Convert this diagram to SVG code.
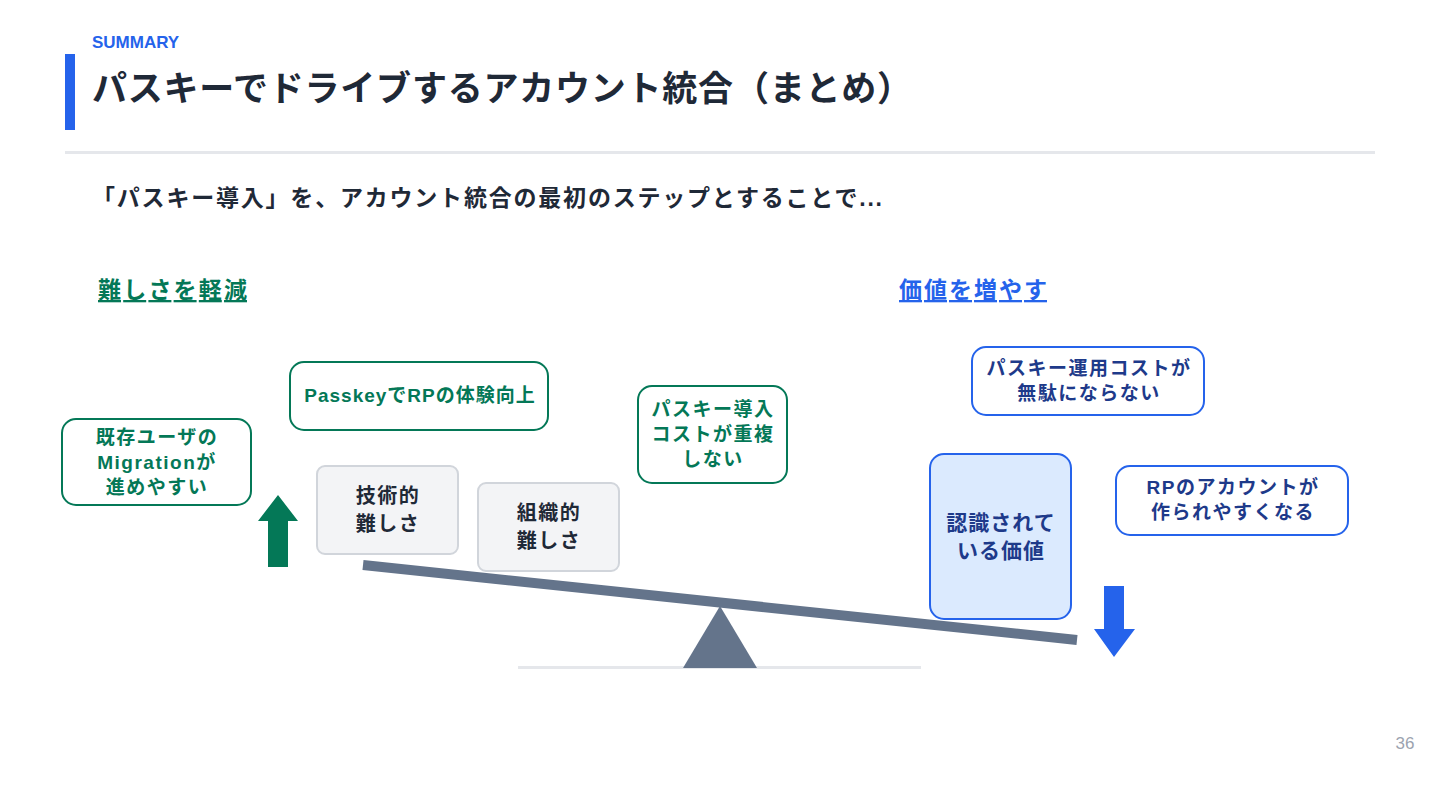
<svg xmlns="http://www.w3.org/2000/svg" width="1440" height="810" viewBox="0 0 1440 810">
<style>
text{font-family:"Liberation Sans","Noto Sans CJK JP",sans-serif;font-weight:bold}
.g{fill:#047857;font-size:19px;text-anchor:middle;letter-spacing:1.5px}
.b{fill:#1e3a8a;font-size:19px;text-anchor:middle;letter-spacing:1.5px}
.d{fill:#1f2937;font-size:20px;text-anchor:middle;letter-spacing:1.5px}
.v{fill:#1e3a8a;font-size:21px;text-anchor:middle;letter-spacing:1px}
.gbox{fill:#fff;stroke:#047857;stroke-width:2}
.bbox{fill:#fff;stroke:#2563eb;stroke-width:2}
.nbox{fill:#f3f4f6;stroke:#d1d5db;stroke-width:2}
.pn{font-weight:normal;fill:#9ca3af;font-size:17px;text-anchor:middle}
</style>
<rect width="1440" height="810" fill="#fff"/>
<g id="header">
<text x="92" y="48" font-size="17" fill="#2563eb">SUMMARY</text>
<rect x="65" y="54" width="10" height="76" fill="#2563eb"/>
<text x="92" y="101" font-size="35" fill="#1f2937" textLength="820" lengthAdjust="spacing">パスキーでドライブするアカウント統合（まとめ）</text>
<rect x="65" y="151" width="1310" height="3" fill="#e5e7eb"/>
<text x="92" y="206" font-size="23" fill="#1f2937" textLength="790" lengthAdjust="spacing">「パスキー導入」を、アカウント統合の最初のステップとすることで...</text>
</g>
<g id="labels">
<text x="98" y="298" font-size="23" fill="#047857" text-decoration="underline" textLength="149" lengthAdjust="spacing">難しさを軽減</text>
<text x="899" y="298" font-size="23" fill="#2563eb" text-decoration="underline" textLength="148" lengthAdjust="spacing">価値を増やす</text>
</g>
<g id="seesaw">
<rect x="518" y="666" width="403" height="3" fill="#e5e7eb"/>
<polygon points="720,606 757,668 683,668" fill="#64748b"/>
<line x1="363" y1="565" x2="1077" y2="640" stroke="#64748b" stroke-width="10"/>
</g>
<g id="connectors">
<polygon points="278,495 298,521 288,521 288,567 268,567 268,521 258,521" fill="#047857"/>
<polygon points="1104,586 1124,586 1124,629 1135,629 1114,657 1094,629 1104,629" fill="#2563eb"/>
</g>
<g id="node-migration">
<rect class="gbox" x="62" y="419" width="189" height="86" rx="14"/>
<text class="g" x="157" y="444">既存ユーザの</text>
<text class="g" x="157" y="469">Migrationが</text>
<text class="g" x="157" y="494">進めやすい</text>
</g>
<g id="node-rp-experience">
<rect class="gbox" x="290" y="362" width="258" height="68" rx="14"/>
<text class="g" x="420" y="402" style="letter-spacing:1px">PasskeyでRPの体験向上</text>
</g>
<g id="node-cost-dup">
<rect class="gbox" x="638" y="386" width="149" height="97" rx="14"/>
<text class="g" x="713" y="416">パスキー導入</text>
<text class="g" x="713" y="441">コストが重複</text>
<text class="g" x="713" y="466">しない</text>
</g>
<g id="node-tech">
<rect class="nbox" x="317" y="466" width="141" height="88" rx="8"/>
<text class="d" x="388" y="503">技術的</text>
<text class="d" x="388" y="531">難しさ</text>
</g>
<g id="node-org">
<rect class="nbox" x="478" y="483" width="141" height="88" rx="8"/>
<text class="d" x="549" y="520">組織的</text>
<text class="d" x="549" y="548">難しさ</text>
</g>
<g id="node-value">
<rect x="930" y="454" width="141" height="165" rx="14" fill="#dbeafe" stroke="#2563eb" stroke-width="2"/>
<text class="v" x="1001" y="530">認識されて</text>
<text class="v" x="1001" y="558">いる価値</text>
</g>
<g id="node-op-cost">
<rect class="bbox" x="972" y="347" width="232" height="68" rx="14"/>
<text class="b" x="1089" y="375">パスキー運用コストが</text>
<text class="b" x="1089" y="400">無駄にならない</text>
</g>
<g id="node-rp-account">
<rect class="bbox" x="1116" y="466" width="232" height="69" rx="14"/>
<text class="b" x="1233" y="494">RPのアカウントが</text>
<text class="b" x="1233" y="519">作られやすくなる</text>
</g>
<text class="pn" x="1405" y="749">36</text>
</svg>
